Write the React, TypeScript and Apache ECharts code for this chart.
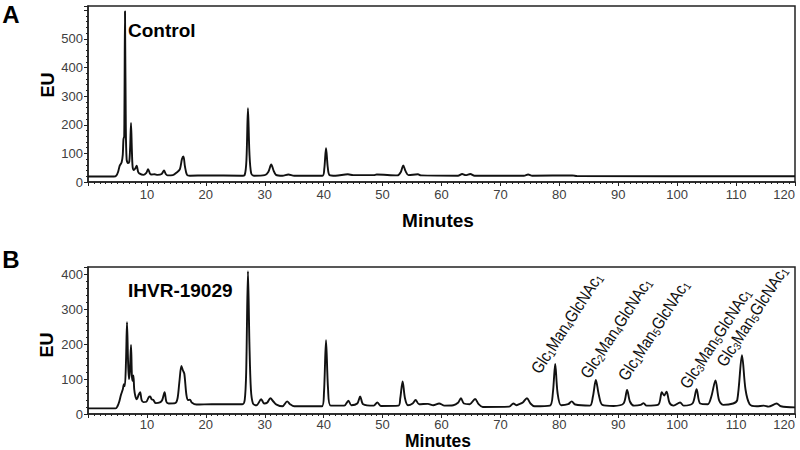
import React, { useEffect, useRef } from "react";
import * as echarts from "echarts";

const FONT = '"Liberation Sans", Arial, Helvetica, sans-serif';

// Tick labels
const xTickLabels = [10, 20, 30, 40, 50, 60, 70, 80, 90, 100, 110, 120];
const controlYTicks = [0, 100, 200, 300, 400, 500];
const ihvrYTicks = [0, 100, 200, 300, 400];

// Panel texts
const panelLetters = ["A", "B"];
const sampleNames = ["Control", "IHVR-19029"];
const xAxisTitle = "Minutes";
const yAxisTitle = "EU";

// Panel A: Control chromatogram [minutes, EU]
const controlTrace: [number, number][] = [
  [0, 19], [4.4, 19], [4.8, 22], [5.1, 35], [5.4, 58], [5.7, 68], [5.9, 95], [6.02, 150],
  [6.15, 160], [6.28, 597], [6.42, 190], [6.56, 78], [6.8, 66], [7.0, 70], [7.15, 120],
  [7.3, 206], [7.45, 110], [7.58, 52], [7.8, 42], [8.05, 48], [8.26, 57], [8.5, 36],
  [8.7, 30], [9.4, 25], [9.9, 32], [10.2, 45], [10.5, 30], [10.8, 26], [11.3, 27],
  [11.8, 25], [12.5, 28], [12.9, 40], [13.2, 28], [13.5, 23], [14.4, 24], [15.1, 34],
  [15.6, 45], [15.95, 80], [16.2, 89], [16.45, 55], [16.8, 25], [17.3, 22], [20, 23],
  [26, 22], [26.6, 25], [26.9, 80], [27.15, 258], [27.4, 100], [27.7, 30], [28.2, 22],
  [30, 24], [30.6, 35], [31.1, 61], [31.5, 40], [31.9, 25], [33, 22], [34, 26], [35, 22],
  [39.8, 22], [40.1, 45], [40.4, 118], [40.7, 50], [41.0, 24], [42, 22], [44.1, 27],
  [45, 24], [48.5, 24], [49, 26], [52.5, 23], [53.1, 35], [53.5, 58], [53.9, 38],
  [54.4, 24], [56, 27], [56.5, 23], [62.8, 22], [63.5, 28], [64.1, 24], [64.9, 28],
  [65.6, 22], [74, 22], [74.7, 26], [75.4, 22], [82.2, 23], [83, 21], [120, 20],
];

// Panel B: IHVR-19029 chromatogram [minutes, EU]
const ihvrTrace: [number, number][] = [
  [0, 16], [4.7, 16], [5.0, 22], [5.3, 35], [5.6, 55], [5.9, 70], [6.1, 85], [6.25, 80],
  [6.45, 150], [6.62, 262], [6.8, 150], [6.95, 100], [7.1, 120], [7.3, 197], [7.45, 110],
  [7.55, 95], [7.7, 110], [7.85, 70], [8.05, 50], [8.3, 42], [8.6, 55], [8.85, 62],
  [9.1, 40], [9.4, 34], [9.9, 35], [10.3, 48], [10.55, 50], [10.8, 42], [11.1, 40],
  [11.5, 31], [12.2, 33], [12.6, 40], [13.0, 62], [13.3, 35], [13.7, 30], [14.8, 31],
  [15.2, 45], [15.5, 90], [15.85, 137], [16.1, 125], [16.35, 115], [16.7, 55], [17.0, 40],
  [17.3, 41], [17.6, 33], [18.4, 27], [21, 28], [26.2, 28], [26.6, 40], [26.85, 120],
  [27.15, 408], [27.4, 200], [27.65, 70], [28.0, 30], [28.6, 25], [29.4, 42], [29.9, 30],
  [30.4, 32], [30.95, 45], [31.5, 35], [32.0, 27], [33.0, 22], [33.8, 36], [34.3, 28],
  [35.0, 22], [39.7, 22], [40.05, 60], [40.4, 211], [40.75, 70], [41.2, 24], [43.5, 24],
  [44.2, 38], [44.7, 25], [45.7, 30], [46.2, 50], [46.7, 28], [48.5, 24], [49.1, 33],
  [49.7, 23], [52.7, 24], [53.0, 45], [53.4, 93], [53.8, 45], [54.3, 25], [55.1, 30],
  [55.6, 40], [56.2, 28], [57.7, 29], [58.6, 25], [59.6, 30], [60.5, 24], [62.0, 25],
  [62.8, 32], [63.3, 45], [63.8, 30], [64.8, 28], [65.7, 43], [66.3, 28], [67, 20],
  [71.5, 21], [72.2, 30], [72.7, 25], [73.2, 28], [73.8, 33], [74.5, 45], [75.1, 30],
  [75.8, 22], [78.4, 24], [78.9, 60], [79.3, 143], [79.7, 60], [80.3, 25], [81.5, 28],
  [82.1, 36], [82.7, 27], [85.2, 24], [85.7, 50], [86.2, 97], [86.7, 55], [87.3, 26],
  [89.2, 23], [90.9, 30], [91.5, 69], [92.0, 35], [92.7, 24], [93.8, 26], [94.3, 31],
  [94.8, 24], [96.8, 27], [97.4, 62], [97.8, 53], [98.2, 64], [98.7, 32], [99.4, 24],
  [100.5, 33], [101.1, 24], [102.6, 30], [103.3, 71], [103.9, 30], [105.2, 28], [105.8, 50],
  [106.5, 96], [107.1, 40], [107.8, 26], [109.5, 30], [110.2, 40], [111.0, 168], [111.6, 70],
  [112.3, 28], [113.5, 22], [114.7, 24], [115.5, 21], [116.9, 30], [117.6, 22], [120, 19],
];

// Peak annotations in panel B (text anchor in data coordinates)
const glycanNames = [
  "Glc1Man4GlcNAc1",
  "Glc2Man4GlcNAc1",
  "Glc1Man5GlcNAc1",
  "Glc3Man5GlcNAc1",
  "Glc3Man5GlcNAc1",
];
const glycanAnchorMinutes = [77.25, 85.6, 92.0, 102.5, 108.7];
const glycanAnchorEU = [106, 92, 86, 63, 126];

const AXIS_COLOR = "#222";
const LABEL_COLOR = "#404040";

function xAxisCfg(gridIndex: number, margin: number) {
  return {
    type: "value",
    gridIndex,
    min: 0,
    max: 120,
    interval: 10,
    axisLine: { show: true, onZero: false, lineStyle: { color: AXIS_COLOR, width: 1.5 } },
    axisTick: { show: true, length: 4, lineStyle: { color: AXIS_COLOR } },
    minorTick: { show: true, splitNumber: 10, length: 2, lineStyle: { color: AXIS_COLOR } },
    splitLine: { show: false },
    axisLabel: {
      color: LABEL_COLOR,
      fontSize: 13,
      lineHeight: 13,
      fontFamily: FONT,
      margin,
      showMinLabel: false,
      alignMaxLabel: "right",
      formatter: (v: number) => (xTickLabels.includes(v) ? String(v) : ""),
    },
  };
}

function yAxisCfg(gridIndex: number, max: number, ticks: number[]) {
  return {
    type: "value",
    gridIndex,
    min: 0,
    max,
    interval: 100,
    axisLine: { show: true, onZero: false, lineStyle: { color: AXIS_COLOR, width: 1.5 } },
    axisTick: { show: true, length: 4, lineStyle: { color: AXIS_COLOR } },
    minorTick: { show: true, splitNumber: 5, length: 2, lineStyle: { color: AXIS_COLOR } },
    splitLine: { show: false },
    axisLabel: {
      color: LABEL_COLOR,
      fontSize: 13,
      fontFamily: FONT,
      margin: 5,
      showMaxLabel: true,
      formatter: (v: number) => (ticks.includes(v) ? String(v) : ""),
    },
  };
}

function lineSeries(idx: number, data: [number, number][]) {
  return {
    type: "line",
    xAxisIndex: idx,
    yAxisIndex: idx,
    data,
    showSymbol: false,
    smooth: 0.3,
    silent: true,
    lineStyle: { color: "#111", width: 1.9 },
  };
}

function richName(name: string) {
  return name.replace(/([A-Za-z]+)(\d)/g, "{m|$1}{s|$2}");
}

export default function App() {
  const ref = useRef<HTMLDivElement>(null);

  useEffect(() => {
    if (!ref.current) return;
    const chart = echarts.init(ref.current, undefined, { renderer: "svg" });

    const staticText = (
      text: string,
      x: number,
      y: number,
      size: number,
      align: string,
      rotation = 0
    ) => ({
      type: "text",
      x,
      y,
      rotation,
      silent: true,
      style: {
        text,
        font: `bold ${size}px ${FONT}`,
        fill: "#000",
        align,
        verticalAlign: "middle",
      },
    });

    const option: any = {
      animation: false,
      backgroundColor: "#fff",
      grid: [
        { left: 88, right: 5, top: 6, bottom: 268, show: true, borderColor: AXIS_COLOR, borderWidth: 1.5 },
        { left: 88, right: 5, top: 267, bottom: 36, show: true, borderColor: AXIS_COLOR, borderWidth: 1.5 },
      ],
      xAxis: [xAxisCfg(0, 6), xAxisCfg(1, 4)],
      yAxis: [yAxisCfg(0, 615, controlYTicks), yAxisCfg(1, 420, ihvrYTicks)],
      series: [lineSeries(0, controlTrace), lineSeries(1, ihvrTrace)],
    };
    chart.setOption(option);

    const annotations = glycanNames.map((name, i) => {
      const p = chart.convertToPixel({ xAxisIndex: 1, yAxisIndex: 1 }, [
        glycanAnchorMinutes[i],
        glycanAnchorEU[i],
      ]) as number[];
      return {
        type: "text",
        x: p[0],
        y: p[1],
        rotation: (57 * Math.PI) / 180,
        scaleX: 0.86,
        silent: true,
        style: {
          text: richName(name),
          align: "left",
          verticalAlign: "bottom",
          fill: "#000",
          rich: {
            m: { fontSize: 17, fontFamily: FONT, fill: "#111", lineHeight: 19 },
            s: { fontSize: 11, fontFamily: FONT, fill: "#111", verticalAlign: "bottom", lineHeight: 10 },
          },
        },
      };
    });

    chart.setOption({
      graphic: [
        staticText(panelLetters[0], 11, 14, 24, "center"),
        staticText(panelLetters[1], 11, 259, 24, "center"),
        staticText(yAxisTitle, 48, 85, 18, "center", Math.PI / 2),
        staticText(yAxisTitle, 47, 345, 18, "center", Math.PI / 2),
        staticText(sampleNames[0], 128, 30, 19, "left"),
        staticText(sampleNames[1], 128, 290, 19, "left"),
        staticText(xAxisTitle, 438, 220, 19, "center"),
        staticText(xAxisTitle, 438, 441, 17.5, "center"),
        ...annotations,
      ],
    });

    return () => chart.dispose();
  }, []);

  return (
    <div
      ref={ref}
      style={{ position: "fixed", left: 0, top: 0, width: 800, height: 450, background: "#fff" }}
    />
  );
}
